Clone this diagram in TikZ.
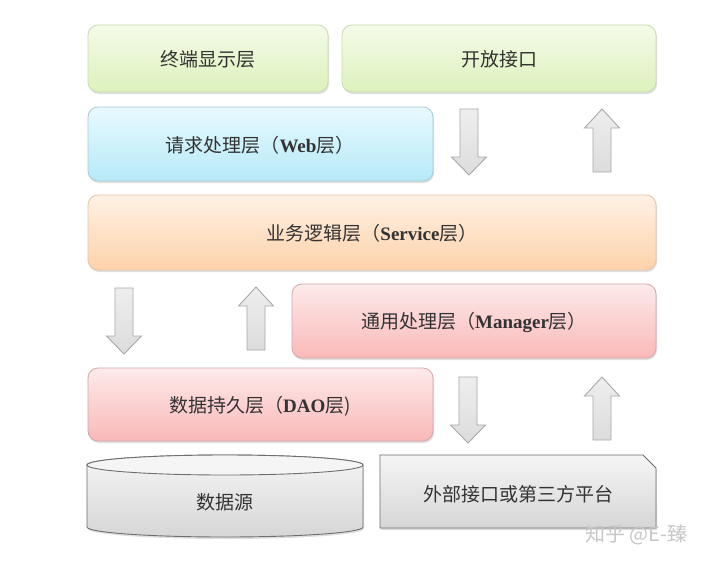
\documentclass[tikz,border=0pt]{standalone}
\usepackage{fontspec}
\newfontfamily\cjk{Noto Sans CJK SC}
\newfontfamily\lat{Liberation Serif}
\usetikzlibrary{shadows}
\definecolor{txt}{HTML}{333333}
\definecolor{gTop}{HTML}{F4FBE8}\definecolor{gBot}{HTML}{DDF1BC}\definecolor{gBrd}{HTML}{CCDAB0}
\definecolor{bTop}{HTML}{E8F9FE}\definecolor{bBot}{HTML}{B6EAF7}\definecolor{bBrd}{HTML}{A6CCD6}
\definecolor{oTop}{HTML}{FEF1E4}\definecolor{oBot}{HTML}{FDD2AA}\definecolor{oBrd}{HTML}{E6C6A6}
\definecolor{pTop}{HTML}{FDEAEA}\definecolor{pBot}{HTML}{FAB8B8}\definecolor{pBrd}{HTML}{D6A6A6}
\definecolor{aTop}{HTML}{EEEEEE}\definecolor{aBot}{HTML}{DCDCDC}\definecolor{aBrd}{HTML}{A8A8A8}
\definecolor{sTop}{HTML}{F5F5F5}\definecolor{sBot}{HTML}{D6D6D6}\definecolor{sBrd}{HTML}{6E6E6E}
\tikzset{
  layer/.style={rounded corners=10pt, line width=0.8pt,
    drop shadow={shadow xshift=1pt, shadow yshift=-2pt, opacity=0.25, fill=gray}},
  greenbox/.style={layer, draw=gBrd, top color=gTop, bottom color=gBot},
  bluebox/.style={layer, draw=bBrd, top color=bTop, bottom color=bBot},
  orangebox/.style={layer, draw=oBrd, top color=oTop, bottom color=oBot},
  pinkbox/.style={layer, draw=pBrd, top color=pTop, bottom color=pBot},
  graybox/.style={line width=0.9pt, draw=sBrd, top color=sTop, bottom color=sBot,
    drop shadow={shadow xshift=1pt, shadow yshift=-2pt, opacity=0.25, fill=gray}},
  arrsty/.style={line width=0.9pt, draw=aBrd, top color=aTop, bottom color=aBot, line join=miter},
  lbl/.style={text=txt, font=\cjk\fontsize{19}{22}\selectfont, inner sep=0pt},
  downarr/.pic={\path[arrsty] (-9,0) -- (9,0) -- (9,48) -- (17.5,48) -- (0,66) -- (-17.5,48) -- (-9,48) -- cycle;},
  uparr/.pic={\path[arrsty] (-9,0) -- (9,0) -- (9,-44) -- (17.5,-44) -- (0,-63) -- (-17.5,-44) -- (-9,-44) -- cycle;}
}
\newcommand{\bl}[1]{{\lat\bfseries #1}}
\begin{document}
\begin{tikzpicture}[x=1pt,y=-1pt]
\useasboundingbox (0,0) rectangle (714,562);
\fill[white] (0,0) rectangle (714,562);
% boxes
\path[greenbox] (88,25) rectangle (328,92);
\path[greenbox] (342,25) rectangle (656,92);
\path[bluebox] (88,107) rectangle (433,181);
\path[orangebox] (88,195) rectangle (656,270);
\path[pinkbox] (292,284) rectangle (656,358);
\path[pinkbox] (88,368) rectangle (433,441);
% labels
\node[lbl] (term) at (208,59) {终端显示层};
\node[lbl] (open) at (499,59) {开放接口};
\node[lbl] (web) at (260,145) {请求处理层（\bl{Web}层）};
\node[lbl] (svc) at (372,233) {业务逻辑层（\bl{Service}层）};
\node[lbl] (mgr) at (474,322) {通用处理层（\bl{Manager}层）};
\node[lbl] (dao) at (260,406) {数据持久层（\bl{DAO}层)};
% arrows
\pic at (469,109) {downarr};
\pic at (602,172) {uparr};
\pic at (124,288) {downarr};
\pic at (256,350) {uparr};
\pic at (468,377) {downarr};
\pic at (602,440) {uparr};
% cylinder
\path[graybox] (87,465) -- (87,527) arc[start angle=180, end angle=0, x radius=138, y radius=10] -- (363,465) arc[start angle=0, end angle=-180, x radius=138, y radius=10] -- cycle;
\draw[line width=0.9pt, draw=sBrd, fill=sTop] (225,465) ellipse[x radius=138, y radius=10];
\node[lbl] (src) at (225,502) {数据源};
% external box
\path[graybox] (380,455) -- (643,455) -- (656,468) -- (656,528) -- (380,528) -- cycle;
\node[lbl] (ext) at (518,494) {外部接口或第三方平台};
% watermark
\node[text=black!22, font=\cjk\fontsize{20}{22}\selectfont, inner sep=0pt, anchor=west] (wm) at (585,535) {知乎 @E-臻};
\end{tikzpicture}
\end{document}
